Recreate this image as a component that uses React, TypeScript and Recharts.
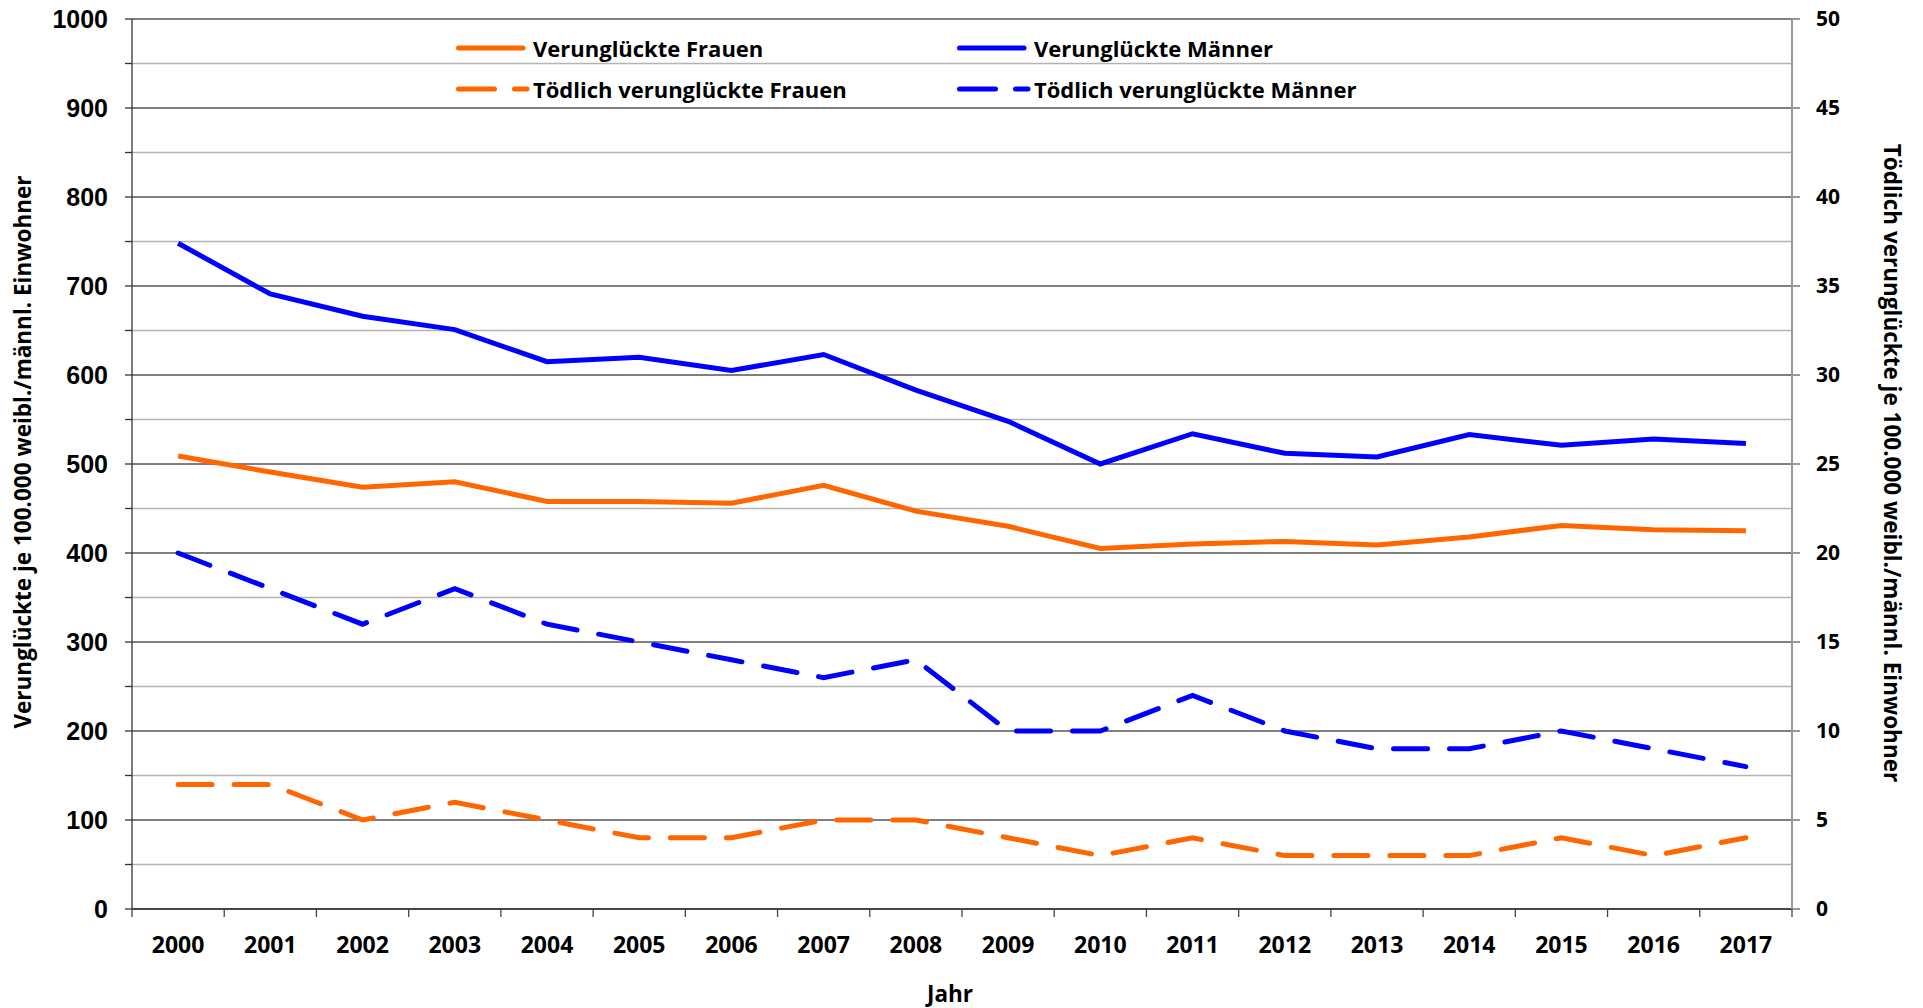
import React from 'react';
import {
  LineChart,
  Line,
  XAxis,
  YAxis,
  CartesianGrid,
} from 'recharts';

const years = [
  '2000', '2001', '2002', '2003', '2004', '2005', '2006', '2007', '2008',
  '2009', '2010', '2011', '2012', '2013', '2014', '2015', '2016', '2017',
];
const frauen = [509, 491, 474, 480, 458, 458, 456, 476, 447, 430, 405, 410, 413, 409, 418, 431, 426, 425];
const maenner = [748, 691, 666, 651, 615, 620, 605, 623, 583, 548, 500, 534, 512, 508, 533, 521, 528, 523];
const toedlichFrauen = [7, 7, 5, 6, 5, 4, 4, 5, 5, 4, 3, 4, 3, 3, 3, 4, 3, 4];
const toedlichMaenner = [20, 18, 16, 18, 16, 15, 14, 13, 14, 10, 10, 12, 10, 9, 9, 10, 9, 8];

const leftTicks = Array.from({ length: 21 }, (_, i) => i * 50);
const rightTicks = [0, 5, 10, 15, 20, 25, 30, 35, 40, 45, 50];

const data = years.map((year, i) => ({
  year,
  frauen: frauen[i],
  maenner: maenner[i],
  toedlichFrauen: toedlichFrauen[i],
  toedlichMaenner: toedlichMaenner[i],
}));

const W = 1923;
const H = 1008;
const PLOT_LEFT = 132;
const PLOT_RIGHT = 1792;
const BAND = (PLOT_RIGHT - PLOT_LEFT) / years.length;

const ORANGE = '#ff6600';
const BLUE = '#0000ff';
const CAL = '"Open Sans", "Noto Sans", sans-serif';
const DASH = '34 22';

const legendItems = [
  { label: 'Verunglückte Frauen', color: ORANGE, dashed: false },
  { label: 'Verunglückte Männer', color: BLUE, dashed: false },
  { label: 'Tödlich verunglückte Frauen', color: ORANGE, dashed: true },
  { label: 'Tödlich verunglückte Männer', color: BLUE, dashed: true },
];

const gridLine = (p: any) => {
  const major = p.index % 2 === 0;
  return (
    <line
      key={`g-${p.index}`}
      x1={p.x1}
      y1={p.y1}
      x2={p.x2}
      y2={p.y2}
      stroke={major ? '#000' : '#b4b4b4'}
      strokeWidth={major ? 1 : 1.6}
    />
  );
};

const YearTick = (props: any) => {
  const { x, y, payload } = props;
  const last = payload.value === years[years.length - 1];
  return (
    <g>
      <line x1={x - BAND / 2} y1={y} x2={x - BAND / 2} y2={y + 8} stroke="#444" strokeWidth={1.3} />
      {last && (
        <line x1={x + BAND / 2} y1={y} x2={x + BAND / 2} y2={y + 8} stroke="#444" strokeWidth={1.3} />
      )}
      <text
        x={x}
        y={y + 35}
        textAnchor="middle"
        dominantBaseline="central"
        fontFamily={CAL}
        fontWeight={700}
        fontSize={23}
        fill="#000"
      >
        {payload.value}
      </text>
    </g>
  );
};

const LegendBox = () => (
  <div
    style={{
      position: 'absolute',
      left: 456,
      top: 34,
      display: 'grid',
      gridTemplateColumns: '501px 420px',
      rowGap: 14,
      fontFamily: CAL,
      fontWeight: 700,
      fontSize: 22,
      color: '#000',
    }}
  >
    {legendItems.map((it) => (
      <div key={it.label} style={{ display: 'flex', alignItems: 'center', height: 27 }}>
        <svg width={77} height={10}>
          <line
            x1={2.5}
            y1={5}
            x2={it.dashed ? 71 : 67}
            y2={5}
            stroke={it.color}
            strokeWidth={5}
            strokeLinecap="round"
            strokeDasharray={it.dashed ? '36 20' : undefined}
          />
        </svg>
        <span>{it.label}</span>
      </div>
    ))}
  </div>
);

const titleStyle: React.CSSProperties = {
  position: 'absolute',
  whiteSpace: 'nowrap',
  fontFamily: CAL,
  fontWeight: 700,
  fontSize: 22.5,
  color: '#000',
};

export default function App() {
  return (
    <div style={{ position: 'absolute', left: 0, top: 0, width: W, height: H, background: '#fff' }}>
      <LineChart
        width={W}
        height={H}
        data={data}
        margin={{ top: 19, right: 51, bottom: 0, left: 52 }}
      >
        <CartesianGrid yAxisId="left" vertical={false} horizontal={gridLine} />
        <XAxis
          dataKey="year"
          scale="band"
          height={99}
          tickSize={0}
          tickMargin={0}
          tickLine={false}
          axisLine={{ stroke: '#333', strokeWidth: 1.3 }}
          tick={<YearTick />}
          interval={0}
        />
        <YAxis
          yAxisId="left"
          width={80}
          domain={[0, 1000]}
          ticks={leftTicks}
          interval={0}
          tickFormatter={(v: number) => (v % 100 === 0 ? String(v) : '')}
          tickSize={7}
          tickMargin={17}
          axisLine={{ stroke: '#333', strokeWidth: 1.3 }}
          tickLine={{ stroke: '#333', strokeWidth: 1.3 }}
          tick={{ fill: '#000', fontFamily: '"Liberation Sans", Arial, sans-serif', fontWeight: 700, fontSize: 25 }}
        />
        <YAxis
          yAxisId="right"
          orientation="right"
          width={80}
          domain={[0, 50]}
          ticks={rightTicks}
          interval={0}
          tickSize={8}
          tickMargin={16}
          axisLine={{ stroke: '#999', strokeWidth: 2 }}
          tickLine={{ stroke: '#999', strokeWidth: 2 }}
          tick={{ fill: '#000', fontFamily: CAL, fontWeight: 700, fontSize: 21 }}
        />
        <Line
          yAxisId="left"
          type="linear"
          dataKey="frauen"
          stroke={ORANGE}
          strokeWidth={5}
          dot={false}
          isAnimationActive={false}
        />
        <Line
          yAxisId="left"
          type="linear"
          dataKey="maenner"
          stroke={BLUE}
          strokeWidth={5}
          dot={false}
          isAnimationActive={false}
        />
        <Line
          yAxisId="right"
          type="linear"
          dataKey="toedlichFrauen"
          stroke={ORANGE}
          strokeWidth={5}
          strokeDasharray={DASH}
          strokeLinecap="round"
          dot={false}
          isAnimationActive={false}
        />
        <Line
          yAxisId="right"
          type="linear"
          dataKey="toedlichMaenner"
          stroke={BLUE}
          strokeWidth={5}
          strokeDasharray={DASH}
          strokeLinecap="round"
          dot={false}
          isAnimationActive={false}
        />
      </LineChart>
      <LegendBox />
      <div style={{ ...titleStyle, left: 22, top: 452, transform: 'translate(-50%, -50%) rotate(-90deg)' }}>
        Verunglückte je 100.000 weibl./männl. Einwohner
      </div>
      <div style={{ ...titleStyle, left: 1892, top: 463, transform: 'translate(-50%, -50%) rotate(90deg)' }}>
        Tödlich verunglückte je 100.000 weibl./männl. Einwohner
      </div>
      <div style={{ ...titleStyle, left: 950, top: 993, transform: 'translate(-50%, -50%)' }}>
        Jahr
      </div>
    </div>
  );
}
